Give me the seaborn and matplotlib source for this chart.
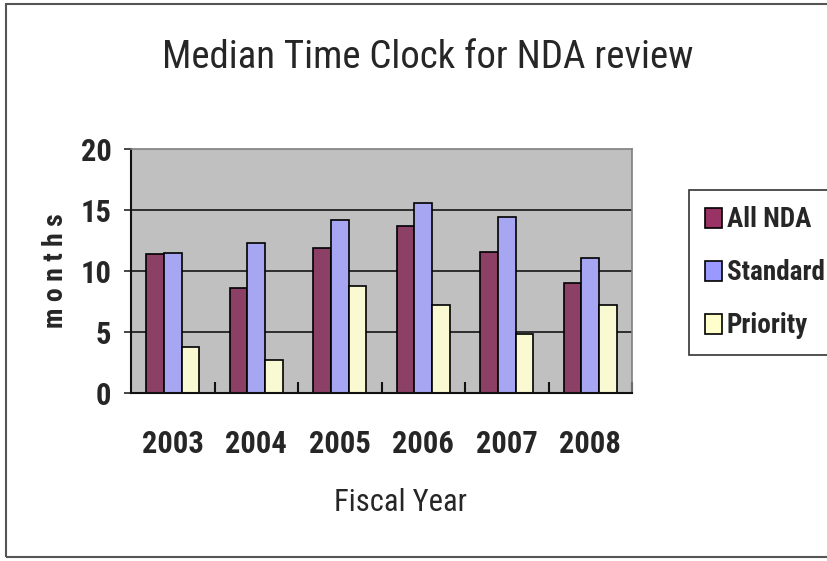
import matplotlib
matplotlib.use("Agg")
import matplotlib.pyplot as plt
from matplotlib.patches import Patch, Rectangle
import seaborn as sns
import pandas as pd

years = ["2003", "2004", "2005", "2006", "2007", "2008"]
all_nda = [11.4, 8.6, 11.85, 13.7, 11.55, 9.05]
standard = [11.5, 12.3, 14.2, 15.55, 14.4, 11.1]
priority = [3.75, 2.7, 8.8, 7.25, 4.8, 7.25]
series = ["All NDA", "Standard", "Priority"]
colors = ["#993366", "#9999FF", "#FFFFCC"]

df = pd.DataFrame({
    "year": years * 3,
    "months": all_nda + standard + priority,
    "series": [s for s in series for _ in years],
})

sns.set_style("white")
plt.rcParams["font.family"] = ["Roboto Condensed", "Liberation Sans"]

fig = plt.figure(figsize=(8.27, 5.61), dpi=100)
ax = fig.add_axes([131 / 827, 1 - 393 / 561, 501 / 827, 244 / 561])
ax.set_facecolor("#C0C0C0")

sns.barplot(data=df, x="year", y="months", hue="series", palette=colors,
            width=0.64, edgecolor="black", linewidth=1.2, ax=ax, legend=False)

ax.set_ylim(0, 20)
ax.set_xlim(-0.5, 5.5)
ax.set_yticks([0, 5, 10, 15, 20])
for y in [5, 10, 15]:
    ax.axhline(y, color="#222222", lw=1.3, zorder=0.5)
ax.set_axisbelow(True)

for side in ["top", "right"]:
    ax.spines[side].set_color("#808080")
    ax.spines[side].set_linewidth(1.2)
for side in ["left", "bottom"]:
    ax.spines[side].set_color("#111111")
    ax.spines[side].set_linewidth(1.5)

ax.set_xticks(range(6))
ax.set_xticklabels(years, fontsize=22, fontweight="bold")
ax.set_xticks([i + 0.5 for i in range(6)], minor=True)
ax.tick_params(axis="x", which="major", length=0, pad=26)
ax.tick_params(axis="x", which="minor", direction="in", length=8, width=1.5,
               color="#111111", bottom=True)
ax.tick_params(axis="y", labelsize=22, length=5, width=1.2, direction="out",
               pad=9, left=True)
for lab in ax.get_yticklabels():
    lab.set_fontweight("bold")

ax.set_xlabel("Fiscal Year", fontsize=22)
ax.xaxis.set_label_coords((400 - 131) / 501, (393 - 488) / 244)
ax.set_ylabel("m o n t h s", fontsize=20, fontweight="bold")
ax.yaxis.set_label_coords((69 - 131) / 501, (393 - 271) / 244)

fig.text(428 / 827, 1 - 68 / 561, "Median Time Clock for NDA review",
         fontsize=28, ha="center", va="baseline")

handles = [Patch(facecolor=c, edgecolor="black", lw=1.2) for c in colors]
leg = fig.legend(handles, series, loc="upper left",
                 bbox_to_anchor=(689 / 827, 1 - 190 / 561), borderaxespad=0,
                 prop={"weight": "bold", "size": 19.5},
                 handlelength=0.62, handleheight=0.78, handletextpad=0.18,
                 labelspacing=0.96, borderpad=0.6, fancybox=False,
                 edgecolor="#333333", framealpha=1)
leg.get_frame().set_linewidth(1.2)

fig.patches.append(Rectangle((6 / 827, 1 - 557 / 561), 1.0, 553 / 561,
                             transform=fig.transFigure, fill=False,
                             edgecolor="#555555", lw=1.5))

fig.savefig("out.png", dpi=100)
